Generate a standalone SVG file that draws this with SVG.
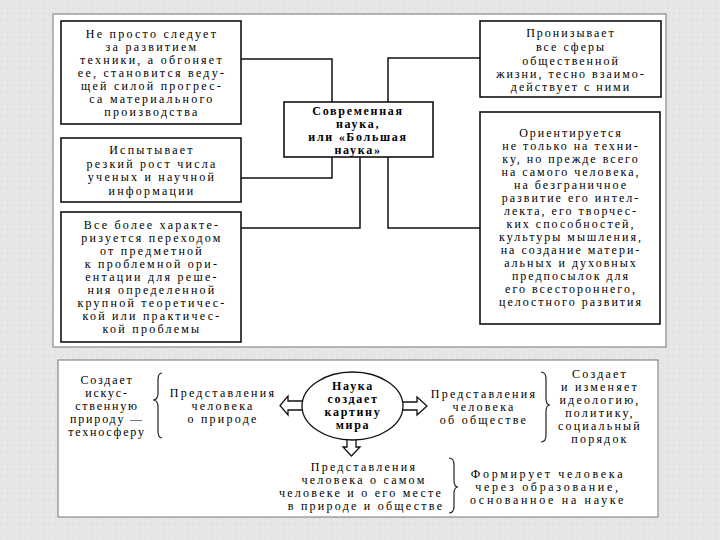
<svg xmlns="http://www.w3.org/2000/svg" width="720" height="540" viewBox="0 0 720 540">
<defs>
<pattern id="tex" width="6" height="6" patternUnits="userSpaceOnUse">
<rect width="6" height="6" fill="#e6e6e6"/>
<rect x="1" y="2" width="1" height="1" fill="#d6d6d6"/>
<rect x="4" y="4" width="1" height="1" fill="#f2f2f2"/>
<rect x="3" y="0" width="1" height="1" fill="#dcdcdc"/>
</pattern>
</defs>
<style>
.panel{fill:#ffffff;stroke:#8a8a8a;stroke-width:1.2}
.box{fill:#ffffff;stroke:#111;stroke-width:1.6}
.ln{fill:none;stroke:#111;stroke-width:1.5}
.arr{fill:#ffffff;stroke:#111;stroke-width:1.3;stroke-linejoin:miter}
.br{fill:none;stroke:#222;stroke-width:1.2}
text{font-family:"Liberation Serif","DejaVu Serif",serif;font-size:12px;fill:#000;text-anchor:middle;letter-spacing:2.25px}
.b{font-weight:bold;letter-spacing:1.7px}
.r{letter-spacing:2px}
.e{letter-spacing:2.7px}
.re{letter-spacing:2.2px}
.le{letter-spacing:1.8px}
</style>
<rect width="720" height="540" fill="url(#tex)"/>
<rect class="panel" x="53" y="14" width="613" height="333"/>
<rect class="panel" x="58" y="360" width="600" height="157"/>

<g id="connectors">
<polyline class="ln" points="241,59 332,59 332,102"/>
<polyline class="ln" points="480,58 388,58 388,102"/>
<polyline class="ln" points="241,178 332,178 332,157"/>
<polyline class="ln" points="241,228 360,228 360,157"/>
<polyline class="ln" points="480,228 388,228 388,157"/>
<polygon class="arr" points="304,401 288,401 288,396 280,405.5 288,415 288,410 304,410"/>
<polygon class="arr" points="400,402 417,402 417,397 427,406 417,415 417,410 400,410"/>
<polygon class="arr" points="347,436 347,447 343,447 351.5,456 360,447 356,447 356,436"/>
</g>

<g id="box1">
<rect class="box" x="61" y="21" width="180" height="103"/>
<text x="152" y="38">Не просто следует</text>
<text x="152" y="51">за развитием</text>
<text x="152" y="64">техники, а обгоняет</text>
<text x="152" y="77">ее, становится веду-</text>
<text x="152" y="90">щей силой прогрес-</text>
<text x="152" y="103">са материального</text>
<text x="152" y="116">производства</text>
</g>

<g id="box2">
<rect class="box" x="61" y="138" width="180" height="64"/>
<text x="152" y="154">Испытывает</text>
<text x="152" y="168">резкий рост числа</text>
<text x="152" y="181">ученых и научной</text>
<text x="152" y="195">информации</text>
</g>

<g id="box3">
<rect class="box" x="61" y="212" width="180" height="130"/>
<text x="152" y="229">Все более характе-</text>
<text x="152" y="242">ризуется переходом</text>
<text x="152" y="255">от предметной</text>
<text x="152" y="268">к проблемной ори-</text>
<text x="152" y="281">ентации для реше-</text>
<text x="152" y="294">ния определенной</text>
<text x="152" y="307">крупной теоретичес-</text>
<text x="152" y="320">кой или практичес-</text>
<text x="152" y="333">кой проблемы</text>
</g>

<g id="center">
<rect class="box" x="284" y="102" width="149" height="55"/>
<text class="b" x="358" y="115">Современная</text>
<text class="b" x="358" y="128">наука,</text>
<text class="b" x="358" y="141">или «Большая</text>
<text class="b" x="358" y="154">наука»</text>
</g>

<g id="rbox1">
<rect class="box" x="480" y="21" width="181" height="76"/>
<text class="r" x="571" y="37">Пронизывает</text>
<text class="r" x="571" y="51">все сферы</text>
<text class="r" x="571" y="65">общественной</text>
<text class="r" x="571" y="78">жизни, тесно взаимо-</text>
<text class="r" x="571" y="91">действует с ними</text>
</g>

<g id="rbox2">
<rect class="box" x="480" y="112" width="180" height="212"/>
<text class="r" x="571" y="137">Ориентируется</text>
<text class="r" x="571" y="150">не только на техни-</text>
<text class="r" x="571" y="163">ку, но прежде всего</text>
<text class="r" x="571" y="176">на самого человека,</text>
<text class="r" x="571" y="189">на безграничное</text>
<text class="r" x="571" y="202">развитие его интел-</text>
<text class="r" x="571" y="215">лекта, его творчес-</text>
<text class="r" x="571" y="228">ких способностей,</text>
<text class="r" x="571" y="241">культуры мышления,</text>
<text class="r" x="571" y="254">на создание матери-</text>
<text class="r" x="571" y="267">альных и духовных</text>
<text class="r" x="571" y="280">предпосылок для</text>
<text class="r" x="571" y="293">его всестороннего,</text>
<text class="r" x="571" y="306">целостного развития</text>
</g>

<g id="ellipse">
<ellipse cx="352.5" cy="406" rx="50.5" ry="34" fill="#ffffff" stroke="#111" stroke-width="1.3"/>
<text class="b" x="353" y="390">Наука</text>
<text class="b" x="353" y="403">создает</text>
<text class="b" x="353" y="416">картину</text>
<text class="b" x="353" y="429">мира</text>
</g>

<g id="left-effect">
<text class="le" x="107" y="384">Создает</text>
<text class="le" x="107" y="397">искус-</text>
<text class="le" x="107" y="410">ственную</text>
<text class="le" x="107" y="423">природу —</text>
<text class="le" x="107" y="436">техносферу</text>
<path class="br" d="M162,373 Q158,373 158,380 L158,393 Q158,400 153,400 Q158,400 158,407 L158,431 Q158,438 162,438"/>
</g>

<g id="nature">
<text x="223" y="397">Представления</text>
<text x="223" y="410">человека</text>
<text x="223" y="423">о природе</text>
</g>

<g id="society">
<text x="484" y="398">Представления</text>
<text x="484" y="411">человека</text>
<text x="484" y="424">об обществе</text>
<path class="br" d="M541,372 Q546,372 546,379 L546,398 Q546,405 550,405 Q546,405 546,412 L546,435 Q546,442 541,442"/>
</g>

<g id="right-effect">
<text class="re" x="600" y="378">Создает</text>
<text class="re" x="600" y="391">и изменяет</text>
<text class="re" x="600" y="404">идеологию,</text>
<text class="re" x="600" y="417">политику,</text>
<text class="re" x="600" y="430">социальный</text>
<text class="re" x="600" y="443">порядок</text>
</g>

<g id="self">
<text x="364" y="471">Представления</text>
<text x="364" y="484">человека о самом</text>
<text x="361" y="497">человеке и о его месте</text>
<text x="366" y="510">в природе и обществе</text>
<path class="br" d="M449,458 Q454,458 454,465 L454,480 Q454,487 458,487 Q454,487 454,494 L454,506 Q454,513 449,513"/>
</g>

<g id="education">
<text class="e" x="548" y="478">Формирует человека</text>
<text class="e" x="548" y="491">через образование,</text>
<text class="e" x="548" y="504">основанное на науке</text>
</g>
</svg>
